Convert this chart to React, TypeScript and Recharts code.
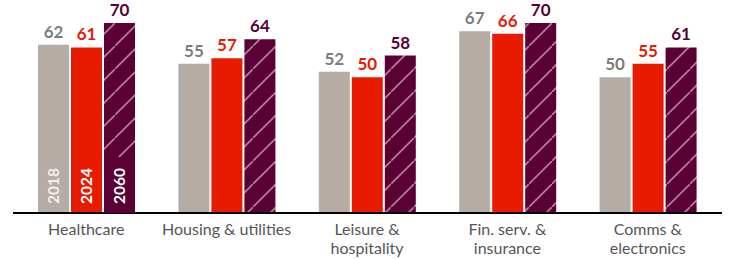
import React from "react";
import { BarChart, Bar, XAxis, YAxis, LabelList } from "recharts";

const categories = ["Healthcare", "Housing & utilities", "Leisure &\nhospitality", "Fin. serv. &\ninsurance", "Comms &\nelectronics"];
const series2018 = [62, 55, 52, 67, 50];
const series2024 = [61, 57, 50, 66, 55];
const series2060 = [70, 64, 58, 70, 61];
const seriesNames = ["2018", "2024", "2060"];

const data = categories.map((c, i) => ({
  category: c,
  y2018: series2018[i],
  y2024: series2024[i],
  y2060: series2060[i],
}));

const FONT = "Lato, 'Noto Sans', sans-serif";
const GRAY = "#b5aca6";
const RED = "#e81a00";
const PURPLE = "#5a0034";

const CategoryTick = (props: any) => {
  const { x, y, payload } = props;
  const lines = String(payload.value).split("\n");
  return (
    <text x={x} y={y} textAnchor="middle" fill="#555" fontFamily={FONT} fontSize={16}>
      {lines.map((l, i) => (
        <tspan key={i} x={x} dy={i === 0 ? 22 : 19}>
          {l}
        </tspan>
      ))}
    </text>
  );
};

const makeInside = (name: string, color: string, bg?: string) => (props: any) => {
  const { x, y, width, height, index } = props;
  if (index !== 0) return null;
  const cx = x + width / 2 + 5.5;
  const bottom = y + height - 9;
  return (
    <g>
      {bg ? <rect x={x} y={y + height - 56} width={width} height={56} fill={bg} /> : null}
      <text
        x={cx}
        y={bottom}
        transform={`rotate(-90 ${cx} ${bottom})`}
        textAnchor="start"
        fill={color}
        fontFamily={FONT}
        fontWeight={700}
        fontSize={15.5}
      >
        {name}
      </text>
    </g>
  );
};

const makeTop = (color: string) => (props: any) => {
  const { x, y, width, value } = props;
  return (
    <text
      x={x + width / 2}
      y={y - 7}
      textAnchor="middle"
      fill={color}
      fontFamily={FONT}
      fontWeight={700}
      fontSize={17}
    >
      {value}
    </text>
  );
};

export default function App() {
  return (
    <div style={{ position: "absolute", left: 0, top: 0 }}>
      <BarChart
        width={735}
        height={259}
        data={data}
        margin={{ top: 23, right: 13, bottom: 0, left: 13 }}
        barSize={31}
        barGap={2}
      >
        <defs>
          <pattern id="hatch" patternUnits="userSpaceOnUse" width="23" height="23">
            <rect x="0" y="0" width="23" height="23" fill={PURPLE} />
            <line x1="-2" y1="25" x2="25" y2="-2" stroke="#b77fa0" strokeWidth="1.6" />
          </pattern>
        </defs>
        <YAxis hide domain={[0, 70]} />
        <XAxis
          dataKey="category"
          interval={0}
          tickLine={false}
          tickSize={0}
          tickMargin={0}
          height={46}
          padding={{ left: 3, right: 4 }}
          axisLine={{ stroke: "#000", strokeWidth: 2 }}
          tick={<CategoryTick />}
        />
        <Bar dataKey="y2018" fill={GRAY} isAnimationActive={false}>
          <LabelList dataKey="y2018" content={makeTop("#7d7d7d")} />
          <LabelList dataKey="y2018" content={makeInside(seriesNames[0], "#f3f0ee")} />
        </Bar>
        <Bar dataKey="y2024" fill={RED} isAnimationActive={false}>
          <LabelList dataKey="y2024" content={makeTop(RED)} />
          <LabelList dataKey="y2024" content={makeInside(seriesNames[1], "#ffffff")} />
        </Bar>
        <Bar dataKey="y2060" fill="url(#hatch)" isAnimationActive={false}>
          <LabelList dataKey="y2060" content={makeTop(PURPLE)} />
          <LabelList dataKey="y2060" content={makeInside(seriesNames[2], "#ffffff", PURPLE)} />
        </Bar>
      </BarChart>
    </div>
  );
}
